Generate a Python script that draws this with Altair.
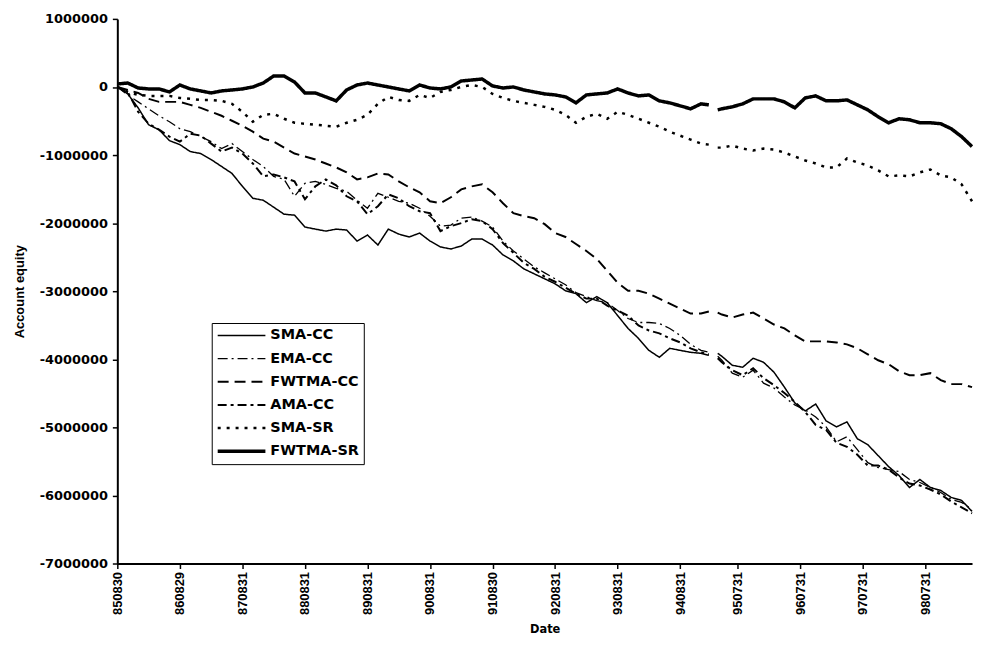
import altair as alt
import pandas as pd

# x positions: months since 1985-08-30
months = list(range(0, 113, 2)) + [113.5, 114.3, 115.2] + list(range(116, 165, 2))

tick_months = [0, 12, 24, 36, 48, 60, 72, 84, 96, 108, 119, 131, 143, 155]
tick_labels = ["850830", "860829", "870831", "880831", "890831", "900831", "910830",
               "920831", "930831", "940831", "950731", "960731", "970731", "980731"]
y_ticks = [1000000, 0, -1000000, -2000000, -3000000, -4000000, -5000000, -6000000, -7000000]

series_names = ["SMA-CC", "EMA-CC", "FWTMA-CC", "AMA-CC", "SMA-SR", "FWTMA-SR"]

sma_cc = [0, -102000, -307000, -555000, -628000, -788000, -847000, -949000, -978000, -1066000,
          -1168000, -1270000, -1460000, -1635000, -1664000, -1766000, -1869000, -1883000, -2058000, -2088000,
          -2117000, -2088000, -2102000, -2263000, -2175000, -2321000, -2088000, -2161000, -2204000, -2146000,
          -2263000, -2350000, -2380000, -2336000, -2234000, -2234000, -2321000, -2467000, -2555000, -2672000,
          -2745000, -2818000, -2891000, -2993000, -3036000, -3168000, -3080000, -3168000, -3358000, -3547000,
          -3693000, -3869000, -3971000, -3839000, -3869000, -3898000, -3912000,
          -3942000, None, -3912000,
          -3956000, -4088000, -4117000, -3985000, -4044000, -4190000, -4409000, -4642000, -4759000, -4657000,
          -4905000, -4993000, -4920000, -5168000, -5255000, -5416000, -5577000, -5708000, -5883000, -5766000,
          -5883000, -5927000, -6029000, -6073000, -6234000]

ema_cc = [0, -117000, -219000, -321000, -423000, -511000, -613000, -657000, -730000, -803000,
          -905000, -832000, -949000, -1066000, -1168000, -1314000, -1358000, -1606000, -1416000, -1387000,
          -1431000, -1489000, -1533000, -1664000, -1781000, -1562000, -1620000, -1679000, -1708000, -1781000,
          -1898000, -2044000, -2029000, -1927000, -1912000, -1971000, -2058000, -2263000, -2409000, -2526000,
          -2642000, -2730000, -2818000, -2905000, -3022000, -3080000, -3139000, -3168000, -3285000, -3401000,
          -3460000, -3460000, -3474000, -3547000, -3650000, -3781000, -3869000,
          -3898000, None, -3956000,
          -4015000, -4204000, -4263000, -4161000, -4350000, -4423000, -4555000, -4672000, -4745000, -4847000,
          -4993000, -5212000, -5139000, -5328000, -5518000, -5591000, -5620000, -5650000, -5766000, -5810000,
          -5883000, -5956000, -6058000, -6102000, -6204000]

fwtma_cc = [0, -44000, -88000, -175000, -219000, -219000, -219000, -263000, -307000, -365000,
            -423000, -496000, -569000, -657000, -759000, -803000, -891000, -978000, -1022000, -1066000,
            -1124000, -1182000, -1255000, -1358000, -1328000, -1270000, -1285000, -1387000, -1474000, -1547000,
            -1679000, -1708000, -1620000, -1504000, -1460000, -1431000, -1547000, -1708000, -1854000, -1898000,
            -1927000, -2015000, -2146000, -2204000, -2307000, -2409000, -2526000, -2701000, -2876000, -2993000,
            -2993000, -3036000, -3109000, -3183000, -3255000, -3328000, -3328000,
            -3299000, None, -3314000,
            -3343000, -3387000, -3343000, -3314000, -3401000, -3489000, -3547000, -3650000, -3737000, -3737000,
            -3737000, -3752000, -3781000, -3839000, -3927000, -4015000, -4073000, -4175000, -4234000, -4234000,
            -4204000, -4307000, -4365000, -4365000, -4409000]

ama_cc = [0, -73000, -365000, -540000, -628000, -730000, -803000, -686000, -715000, -832000,
          -949000, -891000, -978000, -1124000, -1314000, -1285000, -1328000, -1387000, -1650000, -1460000,
          -1358000, -1445000, -1606000, -1679000, -1869000, -1752000, -1577000, -1635000, -1752000, -1825000,
          -1854000, -2117000, -2044000, -2000000, -1942000, -1971000, -2088000, -2292000, -2438000, -2584000,
          -2672000, -2788000, -2861000, -2949000, -3036000, -3109000, -3109000, -3212000, -3285000, -3358000,
          -3504000, -3577000, -3620000, -3693000, -3752000, -3839000, -3898000,
          -3927000, None, -3985000,
          -4044000, -4161000, -4234000, -4131000, -4277000, -4380000, -4496000, -4628000, -4774000, -4964000,
          -5037000, -5226000, -5285000, -5402000, -5562000, -5562000, -5620000, -5737000, -5825000, -5854000,
          -5913000, -5985000, -6088000, -6175000, -6263000]

sma_sr = [0, -73000, -117000, -131000, -131000, -131000, -161000, -175000, -190000, -190000,
          -204000, -248000, -365000, -511000, -409000, -394000, -467000, -526000, -540000, -555000,
          -569000, -584000, -526000, -482000, -409000, -248000, -146000, -190000, -204000, -117000,
          -161000, -73000, -44000, 0, 29000, 0, -102000, -161000, -204000, -234000,
          -263000, -292000, -336000, -409000, -526000, -438000, -394000, -467000, -365000, -409000,
          -467000, -526000, -584000, -657000, -715000, -774000, -832000,
          -847000, None, -891000,
          -891000, -861000, -905000, -934000, -905000, -920000, -963000, -1022000, -1080000, -1124000,
          -1182000, -1182000, -1051000, -1109000, -1153000, -1226000, -1314000, -1299000, -1314000, -1255000,
          -1212000, -1299000, -1328000, -1431000, -1679000]

fwtma_sr = [44000, 58000, -15000, -29000, -29000, -73000, 29000, -29000, -58000, -88000,
            -58000, -44000, -29000, 0, 58000, 161000, 161000, 73000, -88000, -88000,
            -146000, -204000, -44000, 29000, 58000, 29000, 0, -29000, -58000, 29000,
            -15000, -29000, 0, 88000, 102000, 117000, 15000, -15000, 0, -44000,
            -73000, -102000, -117000, -146000, -234000, -117000, -102000, -88000, -29000, -88000,
            -131000, -117000, -204000, -234000, -277000, -321000, -248000,
            -263000, None, -336000,
            -321000, -292000, -248000, -175000, -175000, -175000, -219000, -307000, -161000, -131000,
            -204000, -204000, -190000, -263000, -336000, -438000, -526000, -467000, -482000, -526000,
            -526000, -540000, -613000, -730000, -876000]

all_series = [sma_cc, ema_cc, fwtma_cc, ama_cc, sma_sr, fwtma_sr]

rows = []
for name, vals in zip(series_names, all_series):
    if len(vals) != len(months):
        raise ValueError(f"{name}: {len(vals)} values for {len(months)} months")
    for m, v in zip(months, vals):
        rows.append({"month": m, "equity": v, "series": name})
df = pd.DataFrame(rows)

dash_range = [[1, 0], [10, 4, 2, 4], [11, 6], [9, 4, 3, 4], [3, 6], [1, 0]]
width_range = [1.5, 1.3, 2.0, 2.0, 2.5, 3.5]

x_label_expr = ("[" + ",".join("'" + t + "'" for t in tick_labels) + "][indexof(["
                + ",".join(str(t) for t in tick_months) + "], datum.value)]")

legend = alt.Legend(
    title=None, orient="none", legendX=95, legendY=306,
    symbolType="M-1,0H1", symbolSize=2304, symbolStrokeColor="black",
    labelFont="DejaVu Sans", labelFontWeight="bold", labelFontSize=14.5, labelColor="black",
    strokeColor="black", fillColor="white", padding=4, rowPadding=6.3, clipHeight=17,
    labelOffset=3, labelLimit=200,
)

chart = alt.Chart(df).mark_line(color="black", strokeCap="butt").encode(
    x=alt.X("month:Q",
            scale=alt.Scale(domain=[0, 164], nice=False, zero=False),
            axis=alt.Axis(values=tick_months, labelExpr=x_label_expr, labelAngle=270,
                          labelFont="Liberation Sans", labelFontWeight="bold", labelFontSize=13,
                          labelOverlap=False, labelFlush=False,
                          tickSize=5, domainWidth=2, tickWidth=1.5, labelPadding=3,
                          title="Date", titleFont="DejaVu Sans", titleFontWeight="bold",
                          titleFontSize=11.5, titlePadding=9)),
    y=alt.Y("equity:Q",
            scale=alt.Scale(domain=[-7000000, 1000000], nice=False, zero=False),
            axis=alt.Axis(values=y_ticks, labelExpr="'' + datum.value",
                          labelFont="DejaVu Sans", labelFontWeight="bold", labelFontSize=13,
                          tickSize=5, domainWidth=2, tickWidth=1.5, labelPadding=5,
                          title="Account equity", titleFont="Liberation Sans", titleFontWeight="bold",
                          titleFontSize=13, titlePadding=13)),
    strokeDash=alt.StrokeDash("series:O",
                              scale=alt.Scale(domain=series_names, range=dash_range),
                              legend=legend),
    strokeWidth=alt.StrokeWidth("series:O",
                                scale=alt.Scale(type="ordinal", domain=series_names, range=width_range),
                                legend=legend),
).properties(
    width=860, height=548,
    padding={"left": 110, "top": 9, "right": 4, "bottom": 74},
    autosize=alt.AutoSizeParams(type="none"),
).configure_view(strokeWidth=0).configure_axis(
    grid=False, domainColor="black", tickColor="black", labelColor="black", titleColor="black"
)

chart.save("out.html", embed_options={"renderer": "svg", "actions": False})
